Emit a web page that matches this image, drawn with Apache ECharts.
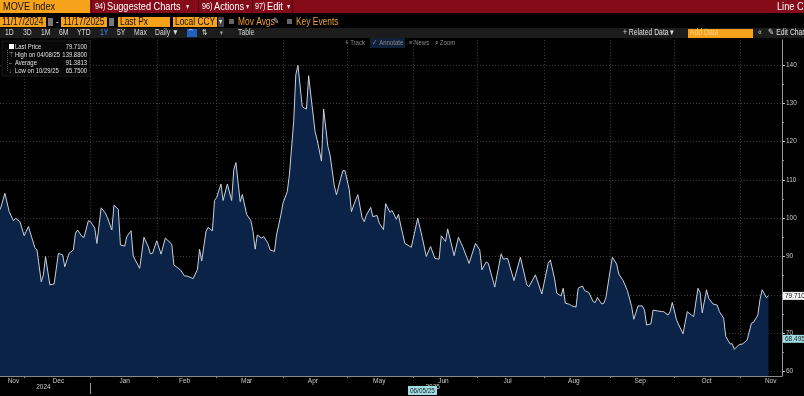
<!DOCTYPE html>
<html><head><meta charset="utf-8">
<script src="https://cdn.jsdelivr.net/npm/echarts@6/dist/echarts.min.js"></script>
<style>html,body{margin:0;padding:0;background:#000;overflow:hidden}#c{width:804px;height:396px}</style>
</head><body><div id="c"></div>
<script>
// ---- data ----
const dates = [
'2024-11-18','2024-11-20','2024-11-22','2024-11-24','2024-11-26','2024-11-27','2024-11-29',
'2024-12-01','2024-12-03','2024-12-06','2024-12-07','2024-12-09','2024-12-10','2024-12-11','2024-12-13','2024-12-15','2024-12-17','2024-12-19','2024-12-20','2024-12-22','2024-12-24','2024-12-25','2024-12-26','2024-12-28','2024-12-29','2024-12-31',
'2025-01-01','2025-01-03','2025-01-04','2025-01-06','2025-01-08','2025-01-09','2025-01-11','2025-01-12','2025-01-14','2025-01-15','2025-01-17','2025-01-18','2025-01-20','2025-01-21','2025-01-24','2025-01-26','2025-01-28','2025-01-29','2025-01-30',
'2025-02-01','2025-02-03','2025-02-05','2025-02-08','2025-02-09','2025-02-12','2025-02-14','2025-02-15','2025-02-17','2025-02-18','2025-02-20','2025-02-21','2025-02-22','2025-02-24','2025-02-25','2025-02-27','2025-02-28',
'2025-03-01','2025-03-03','2025-03-04','2025-03-06','2025-03-08','2025-03-09','2025-03-10','2025-03-12','2025-03-13','2025-03-15','2025-03-17','2025-03-18','2025-03-19','2025-03-20','2025-03-22','2025-03-23','2025-03-25','2025-03-26','2025-03-28','2025-03-29','2025-03-31',
'2025-04-01','2025-04-03','2025-04-04','2025-04-06','2025-04-07','2025-04-08','2025-04-10','2025-04-11','2025-04-12','2025-04-13','2025-04-14','2025-04-16','2025-04-17','2025-04-19','2025-04-20','2025-04-22','2025-04-23','2025-04-25','2025-04-26','2025-04-28','2025-04-29','2025-04-30',
'2025-05-02','2025-05-03','2025-05-05','2025-05-06','2025-05-08','2025-05-09','2025-05-10','2025-05-12','2025-05-13','2025-05-15','2025-05-16','2025-05-18','2025-05-19','2025-05-21','2025-05-22','2025-05-24','2025-05-25','2025-05-26','2025-05-28','2025-05-31',
'2025-06-03','2025-06-05','2025-06-07','2025-06-09','2025-06-11','2025-06-13','2025-06-14','2025-06-16','2025-06-17','2025-06-20','2025-06-22','2025-06-24','2025-06-27','2025-06-30',
'2025-07-02','2025-07-03','2025-07-05','2025-07-06','2025-07-09','2025-07-12','2025-07-13','2025-07-15','2025-07-18','2025-07-21','2025-07-24','2025-07-25','2025-07-28','2025-07-31',
'2025-08-03','2025-08-04','2025-08-06','2025-08-07','2025-08-09','2025-08-10','2025-08-11','2025-08-13','2025-08-14','2025-08-16','2025-08-17','2025-08-19','2025-08-20','2025-08-22','2025-08-24','2025-08-25','2025-08-26','2025-08-28','2025-08-29','2025-08-30',
'2025-09-01','2025-09-02','2025-09-04','2025-09-05','2025-09-07','2025-09-09','2025-09-11','2025-09-12','2025-09-14','2025-09-16','2025-09-17','2025-09-18','2025-09-20','2025-09-21','2025-09-23','2025-09-25','2025-09-26','2025-09-28','2025-09-29','2025-09-30',
'2025-10-02','2025-10-05','2025-10-07','2025-10-09','2025-10-10','2025-10-12','2025-10-13','2025-10-14','2025-10-16','2025-10-17','2025-10-19','2025-10-21','2025-10-22','2025-10-24','2025-10-25','2025-10-27','2025-10-28','2025-10-29','2025-10-31',
'2025-11-02','2025-11-04','2025-11-06','2025-11-07','2025-11-09','2025-11-10','2025-11-11','2025-11-13','2025-11-14'
];
const values = [
100.5,102.6,106.5,101.7,99.3,100.0,99.1,
95.4,97.8,92.3,91.7,83.4,85.2,90.0,82.6,82.8,90.8,90.4,87.3,90.8,91.7,96.1,96.9,95.2,95.0,99.3,
99.1,97.4,93.4,102.7,101.3,100.0,96.9,103.4,102.3,93.0,92.7,95.2,96.7,90.1,86.9,95.0,92.6,90.7,90.8,
94.1,90.6,94.8,93.2,87.8,86.5,84.9,84.9,84.5,84.2,86.6,91.9,88.8,96.5,97.6,96.7,104.6,
105.4,108.9,104.6,108.9,104.6,112.6,114.5,104.3,106.2,101.0,99.3,96.5,91.9,95.6,94.8,95.2,93.4,91.7,91.3,95.6,100.8,
103.9,106.9,111.3,125.2,137.4,139.88,129.1,128.7,128.5,137.2,132.2,122.6,120.4,114.9,128.5,118.7,116.5,108.4,106.1,110.4,112.4,112.4,
107.4,101.7,104.8,106.1,100.1,99.1,100.8,102.8,100.4,100.7,98.7,97.0,103.8,101.5,102.0,99.7,101.0,98.2,93.4,92.4,
100.0,95.2,90.0,92.6,89.5,89.3,95.4,93.9,97.2,90.2,95.0,92.6,88.2,93.4,
91.7,86.5,88.6,88.2,82.0,90.7,89.3,89.5,83.7,89.8,82.6,82.1,85.2,80.2,
88.2,89.1,84.1,80.4,79.7,81.7,77.8,77.5,77.1,76.8,81.7,82.3,81.1,80.6,78.2,78.0,79.3,77.6,77.8,79.3,
86.5,89.8,88.0,85.4,83.7,81.1,76.9,73.6,77.1,77.1,76.0,72.1,72.4,76.0,75.8,75.6,75.6,74.7,75.6,78.0,
73.4,69.8,75.6,74.7,74.3,81.7,80.6,75.3,81.3,79.1,77.6,77.3,75.6,73.9,69.1,67.2,67.2,65.75,66.9,
67.2,68.2,72.6,72.8,74.7,78.8,81.3,79.3,79.71
];
const axisStart = '2024-11-19 17';
const axisEnd = '2025-11-20 07';
const monthStarts = ['2024-12-01','2025-01-01','2025-02-01','2025-03-01','2025-04-01','2025-05-01','2025-06-01','2025-07-01','2025-08-01','2025-09-01','2025-10-01','2025-11-01'];
const monthLabelDates = ['2024-11-26','2024-12-17','2025-01-17','2025-02-14','2025-03-15','2025-04-15','2025-05-16','2025-06-15','2025-07-15','2025-08-15','2025-09-15','2025-10-16','2025-11-15'];
const monthNames = ['Jan','Feb','Mar','Apr','May','Jun','Jul','Aug','Sep','Oct','Nov','Dec'];
const yearTick = ['2025-01-01'];
const yearLabelDates = ['2024-12-10','2025-06-10'];
const yTicks = [60,70,80,90,100,110,120,130,140];
const yMinorTicks = [65,75,85,95,105,115,125,135];
const lastPrice = 79.71;
const cursorValue = 68.4956;
const cursorDate = '06/05/25';
const legendRows = [
  ['Last Price','79.7100'],
  ['High on 04/08/25','139.8800'],
  ['Average','91.3813'],
  ['Low on 10/29/25','65.7500']
];

function ts(s){ // 'YYYY-MM-DD' or 'YYYY-MM-DD HH' -> local timestamp
  const p = s.split(/[- ]/).map(Number);
  return new Date(p[0], p[1]-1, p[2], p[3]||0).getTime();
}

// ---- UI chrome ----
const FN = '"Liberation Sans",Arial,sans-serif';
const NARROW = 0.8;
const g = [];
function rect(x,y,w,h,fill,stroke){ g.push({type:'rect',silent:true,z:100,shape:{x:x,y:y,width:w,height:h},style:{fill:fill,stroke:stroke||null,lineWidth:stroke?1:0}}); }
function line(x1,y1,x2,y2,stroke,dash){ g.push({type:'line',silent:true,z:100,shape:{x1:x1,y1:y1,x2:x2,y2:y2},style:{stroke:stroke,lineWidth:1,lineDash:dash||null}}); }
function txt(x,y,t,fill,size,align){ g.push({type:'text',silent:true,z:101,x:x,y:y,scaleX:NARROW,style:{text:t,fill:fill,font:size+'px '+FN,align:align||'left',verticalAlign:'middle'}}); }

const ORANGE = '#f7a21b';
// row 1
rect(0,0,804,13,'#850b18');
rect(0,0,90,13,ORANGE);
txt(3,7,'MOVE Index','#111',11.5);
line(91.5,0,91.5,13,'#4a050c');
txt(95,7,'94)','#fff',9);
txt(107,7,'Suggested Charts','#fff',11.5);
txt(186,7,'▾','#ddd',8);
line(198.5,0,198.5,13,'#4a050c');
txt(202,7,'96)','#fff',9);
txt(214,7,'Actions','#fff',11.5);
txt(246,7,'▾','#ddd',8);
line(252.5,0,252.5,13,'#4a050c');
txt(255,7,'97)','#fff',9);
txt(267,7,'Edit','#fff',11.5);
txt(287,7,'▾','#ddd',8);
line(292.5,0,292.5,13,'#4a050c');
txt(777,7,'Line Ch','#fff',11.5);
// row 2
rect(0,17,46,10,ORANGE); txt(2,22,'11/17/2024','#111',10.5);
rect(48,18,5,8,'#777');
txt(56,22,'-','#ddd',10);
rect(61,17,46,10,ORANGE); txt(63,22,'11/17/2025','#111',10.5);
rect(109,18,5,8,'#777');
rect(118,17,52,10,ORANGE); txt(120,22,'Last Px','#111',10.5);
rect(173,17,44,10,ORANGE); txt(175,22,'Local CCY','#111',10.5);
rect(218,17,6,10,'#444'); txt(219,22,'▾','#ddd',8);
rect(229,19,5,5,'#666');
txt(238,22,'Mov Avgs','#f0a030',10.5);
txt(273,22,'✎','#ccc',9);
rect(287,19,5,5,'#666');
txt(296,22,'Key Events','#f0a030',10.5);
// row 3
rect(0,28,804,10,'#1c1c1c');
const tabs = [['1D',5],['3D',23],['1M',41],['6M',59],['YTD',77],['5Y',117],['Max',134]];
tabs.forEach(function(t){ txt(t[1],33,t[0],'#d8d8d8',8.5); });
txt(100,33,'1Y','#3d8bff',8.5);
txt(155,33,'Daily ▼','#d8d8d8',8.5);
rect(187,29,10,8,'#1f5fbf'); txt(188,33,'⌒','#fff',7);
txt(202,33,'⇅','#d8d8d8',8);
txt(220,33,'▾','#aaa',7);
txt(238,33,'Table','#d8d8d8',8.5);
txt(623,33,'+ Related Data ▾','#e0e0e0',8.5);
rect(688,29,65,9,ORANGE); txt(690,33,'Add Data','#ffd18a',8.5);
txt(758,33,'«','#ddd',8.5);
txt(768,33,'✎ Edit Chart','#e0e0e0',8.5);
// chart toolbar
txt(345,43,'+ Track','#8a8a8a',7.5);
rect(370,38,35,10,'#0f2038'); txt(372,43,'✓ Annotate','#8a8a8a',7.5);
txt(409,43,'≡ News','#8a8a8a',7.5);
txt(435,43,'⌕ Zoom','#8a8a8a',7.5);
// legend box
rect(2,41,88,35,'#070707','#1a1a1a');
rect(9,44,5,5,'#ffffff');
line(7.5,50,7.5,71,'#555',[1,1]);
txt(9,55,'⊤','#aaa',6.5);
txt(9,63,'–','#aaa',6.5);
txt(9,71,'↓','#aaa',6.5);
legendRows.forEach(function(r,i){
  const y = 47 + i*8;
  txt(15,y,r[0],'#e0e0e0',7.4);
  txt(87,y,r[1],'#e0e0e0',7.4,'right');
});
// cursor date box on x axis
rect(408,386,29,9,'#9edbe3'); txt(410,390.5,cursorDate,'#222',8);

// ---- chart ----
const chart = echarts.init(document.getElementById('c'), null, {renderer:'canvas'});
const axisFont = {color:'#c8c8c8', fontSize:6.5, fontFamily:FN};
const xMin = ts(axisStart), xMax = ts(axisEnd);
chart.setOption({
  backgroundColor:'#000',
  animation:false,
  grid:{left:0,right:22,top:40,bottom:20,containLabel:false},
  xAxis:[{
    type:'value', min:xMin, max:xMax, scale:true,
    axisLine:{show:true,onZero:false,lineStyle:{color:'#8a8a8a',width:1}},
    axisTick:{show:true,customValues:monthStarts.map(ts),length:2,lineStyle:{color:'#8a8a8a'}},
    axisLabel:Object.assign({customValues:monthLabelDates.map(ts),margin:2,hideOverlap:false,
      formatter:function(v){ return monthNames[new Date(v).getMonth()]; }},axisFont),
    splitLine:{show:true,lineStyle:{color:'#3a3a3a',type:[1,2],width:1}}
  },{
    type:'value', min:xMin, max:xMax, scale:true, position:'bottom', offset:7,
    axisLine:{show:false,onZero:false},
    axisTick:{show:true,customValues:yearTick.map(ts),length:11,lineStyle:{color:'#9a9a9a'}},
    axisLabel:Object.assign({customValues:yearLabelDates.map(ts),margin:1,hideOverlap:false,
      formatter:function(v){ return String(new Date(v).getFullYear()); }},axisFont),
    splitLine:{show:false}
  }],
  yAxis:[{
    type:'value', position:'right', min:58.8, max:146.5,
    axisLine:{show:true,onZero:false,lineStyle:{color:'#9a9a9a'}},
    axisTick:{show:true,customValues:yTicks,length:3,lineStyle:{color:'#bbb'}},
    axisLabel:Object.assign({customValues:yTicks,margin:4},axisFont),
    splitLine:{show:true,lineStyle:{color:'#3a3a3a',type:[1,2],width:1}}
  },{
    type:'value', position:'right', min:58.8, max:146.5,
    axisLine:{show:false,onZero:false},
    axisTick:{show:true,customValues:yMinorTicks,length:2,lineStyle:{color:'#999'}},
    axisLabel:{show:false},
    splitLine:{show:false}
  }],
  series:[{
    type:'line', xAxisIndex:0, yAxisIndex:0,
    data:dates.map(function(d,i){ return [ts(d), values[i]]; }),
    symbol:'none', showSymbol:false, clip:true,
    lineStyle:{color:'#c8d0dc',width:1},
    areaStyle:{color:'#0a2346',opacity:1,origin:'start'},
    markLine:{
      silent:true, symbol:'none', animation:false,
      lineStyle:{color:'rgba(0,0,0,0)',width:0},
      data:[
        {yAxis:lastPrice,label:{show:true,position:'end',distance:1,formatter:'79.7100',
          backgroundColor:'#f2f2f2',color:'#111',fontSize:6.5,fontFamily:FN,padding:[1,2,0,2]}},
        {yAxis:cursorValue,label:{show:true,position:'end',distance:1,formatter:'68.4956',
          backgroundColor:'#9edbe3',color:'#222',fontSize:6.5,fontFamily:FN,padding:[1,2,0,2]}}
      ]
    }
  }],
  graphic:g
});
</script>
</body></html>
